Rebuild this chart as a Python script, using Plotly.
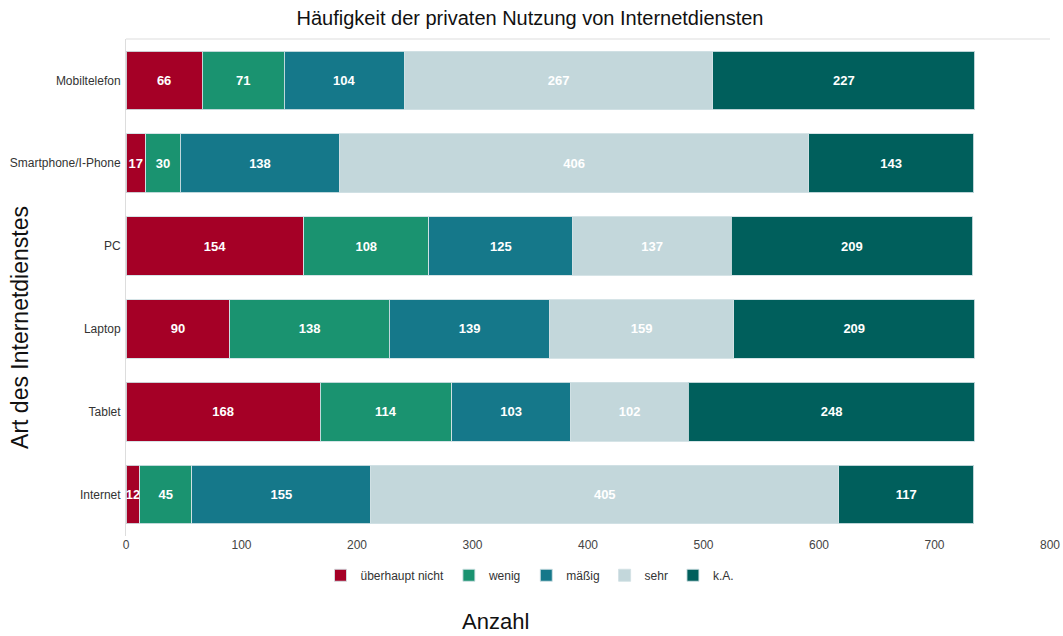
import plotly.graph_objects as go

categories = ["Mobiltelefon", "Smartphone/I-Phone", "PC", "Laptop", "Tablet", "Internet"]
series_names = ["überhaupt nicht", "wenig", "mäßig", "sehr", "k.A."]
ueberhaupt_nicht = [66, 17, 154, 90, 168, 12]
wenig = [71, 30, 108, 138, 114, 45]
maessig = [104, 138, 125, 139, 103, 155]
sehr = [267, 406, 137, 159, 102, 405]
keine_angabe = [227, 143, 209, 209, 248, 117]
x_ticks = [0, 100, 200, 300, 400, 500, 600, 700, 800]

colors = ["#a50026", "#1a9370", "#15788a", "#c3d7db", "#005f5c"]
series_values = [ueberhaupt_nicht, wenig, maessig, sehr, keine_angabe]

FONT = "Liberation Sans, Arial, sans-serif"

fig = go.Figure()
for name, vals, col in zip(series_names, series_values, colors):
    fig.add_trace(go.Bar(
        y=categories, x=vals, name=name, orientation="h",
        marker=dict(color=col, line=dict(color="rgba(210,225,228,0.9)", width=1)),
        text=[str(v) for v in vals], textposition="inside",
        insidetextanchor="middle", textangle=0,
        textfont=dict(family=FONT, size=13, color="white", weight="bold"),
    ))

fig.update_layout(
    barmode="stack",
    bargap=0.29,
    width=1063, height=636,
    margin=dict(l=126, r=13, t=39, b=100, autoexpand=False),
    paper_bgcolor="white", plot_bgcolor="white",
    font=dict(family=FONT, color="#333"),
    uniformtext=dict(minsize=13, mode="show"),
    title=dict(text="Häufigkeit der privaten Nutzung von Internetdiensten",
               x=530/1063, xanchor="center", y=1-18/636, yanchor="middle",
               font=dict(size=20, color="#111")),
    legend=dict(orientation="h", x=(530-126)/924, xanchor="center",
                y=-0.079, yanchor="middle", font=dict(size=12, color="#333"),
                traceorder="normal"),
    xaxis=dict(range=[0, 800], tickvals=x_ticks, showgrid=False, zeroline=False,
               showline=False, tickfont=dict(size=12, color="#444"), ticks="",
               automargin=False),
    yaxis=dict(categoryorder="array", categoryarray=categories, autorange="reversed",
               showgrid=False, showline=True, linecolor="#dddddd", linewidth=1,
               tickfont=dict(size=12, color="#333"), ticks="", ticklabelstandoff=2,
               automargin=False),
    shapes=[dict(type="line", xref="paper", yref="paper", x0=0, x1=1, y0=1, y1=1,
                 line=dict(color="#dddddd", width=1))],
    annotations=[
        dict(text="Anzahl", xref="paper", yref="paper", x=(495-126)/924, y=-(622-536.5)/498,
             xanchor="center", yanchor="middle", showarrow=False,
             font=dict(size=22, color="#111")),
        dict(text="Art des Internetdienstes", xref="paper", yref="paper",
             x=-(126-20)/924, y=1-(328-38.5)/498, textangle=-90,
             xanchor="center", yanchor="middle", showarrow=False,
             font=dict(size=23, color="#111")),
    ],
)

fig.write_html("out.html", config={"displayModeBar": False},
               post_script="document.body.style.margin='0';document.body.style.padding='0';")
